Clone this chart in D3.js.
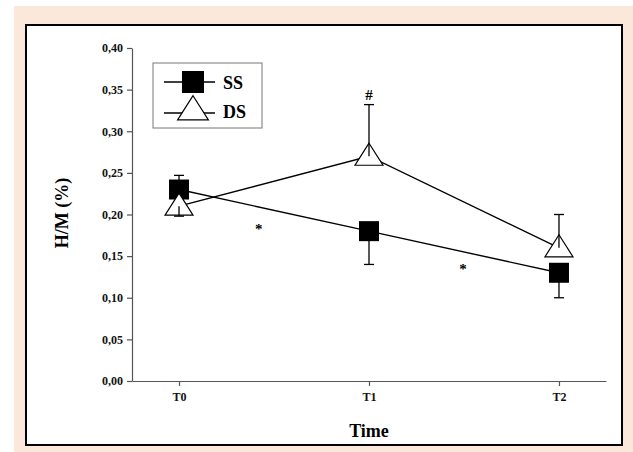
<!DOCTYPE html>
<html>
<head>
<meta charset="utf-8">
<script src="https://cdn.jsdelivr.net/npm/d3@7"></script>
<style>
  html, body { margin: 0; padding: 0; background: #ffffff; }
  svg { display: block; }
</style>
</head>
<body>
<script>
// ---- Data ----
const categories = ["T0", "T1", "T2"];
const ssValues = [0.23, 0.18, 0.13];
const ssErrors = [0.017, 0.04, 0.03];
const ssErrorDir = [1, -1, -1];
const dsValues = [0.21, 0.27, 0.16];
const dsErrors = [0.012, 0.062, 0.04];
const dsErrorDir = [-1, 1, 1];
const yTicks = [0, 0.05, 0.10, 0.15, 0.20, 0.25, 0.30, 0.35, 0.40];
const seriesNames = ["SS", "DS"];
const annotations = [
  { text: "*", cat: 0.42, value: 0.182 },
  { text: "*", cat: 1.495, value: 0.135 },
  { text: "#", cat: 1, value: 0.344 }
];

const W = 633, H = 452;
const svg = d3.select("body").append("svg").attr("width", W).attr("height", H);

// background
svg.append("rect").attr("x", 14).attr("y", 6).attr("width", W - 14).attr("height", H - 6).attr("fill", "#fbe8da");
svg.append("rect").attr("x", 26).attr("y", 25).attr("width", 596).attr("height", 420)
  .attr("fill", "#ffffff").attr("stroke", "#000").attr("stroke-width", 2);

const x = d3.scalePoint().domain(categories).range([132, 606]).padding(0.2475);
const y = d3.scaleLinear().domain([0, 0.4]).range([381, 48]);
const xc = i => x(categories[0]) + i * x.step();

const fmt = v => d3.format(".2f")(v).replace(".", ",");
const serif = "'Liberation Serif', 'Times New Roman', serif";

// axes
const gy = svg.append("g").attr("transform", "translate(132,0)")
  .call(d3.axisLeft(y).tickValues(yTicks).tickFormat(fmt).tickSize(5).tickSizeOuter(0).tickPadding(4));
const gx = svg.append("g").attr("transform", "translate(0,381)")
  .call(d3.axisBottom(x).tickSize(5).tickSizeOuter(0).tickPadding(6));
[gy, gx].forEach(g => {
  g.select(".domain").attr("stroke", "#555").attr("stroke-width", 1.2);
  g.selectAll(".tick line").attr("stroke", "#555").attr("stroke-width", 1.2);
  g.selectAll(".tick text").attr("fill", "#111").style("font-family", serif)
    .style("font-weight", "bold").style("font-size", "12px");
});

// axis titles
svg.append("text").attr("x", 369).attr("y", 437).attr("text-anchor", "middle")
  .style("font-family", serif).style("font-weight", "bold").style("font-size", "18px").text("Time");
svg.append("text").attr("transform", "translate(68,213) rotate(-90)").attr("text-anchor", "middle")
  .style("font-family", serif).style("font-weight", "bold").style("font-size", "18px").text("H/M (%)");

const line = d3.line().x((d, i) => xc(i)).y(d => y(d));
const plot = svg.append("g");

// lines
plot.append("path").datum(ssValues).attr("d", line).attr("fill", "none").attr("stroke", "#000").attr("stroke-width", 1.4);
plot.append("path").datum(dsValues).attr("d", line).attr("fill", "none").attr("stroke", "#000").attr("stroke-width", 1.4);

function errorBars(values, errs, dirs) {
  values.forEach((v, i) => {
    const cx = xc(i), y0 = y(v), y1 = y(v + dirs[i] * errs[i]);
    plot.append("line").attr("x1", cx).attr("x2", cx).attr("y1", y0).attr("y2", y1)
      .attr("stroke", "#000").attr("stroke-width", 1.3);
    plot.append("line").attr("x1", cx - 5).attr("x2", cx + 5).attr("y1", y1).attr("y2", y1)
      .attr("stroke", "#000").attr("stroke-width", 1.3);
  });
}

const triPath = (cx, cy, s) => {
  const hw = 14 * s, up = 13 * s, dn = 9 * s;
  return `M${cx},${cy - up}L${cx + hw},${cy + dn}L${cx - hw},${cy + dn}Z`;
};

// SS squares
errorBars(ssValues, ssErrors, ssErrorDir);
plot.selectAll(".sq").data(ssValues).enter().append("rect")
  .attr("x", (d, i) => xc(i) - 10).attr("y", d => y(d) - 10)
  .attr("width", 20).attr("height", 20).attr("fill", "#000");

// DS triangles
plot.selectAll(".tri").data(dsValues).enter().append("path")
  .attr("d", (d, i) => triPath(xc(i), y(d), 1))
  .attr("fill", "#fff").attr("stroke", "#000").attr("stroke-width", 1.2);
errorBars(dsValues, dsErrors, dsErrorDir);

// annotations
annotations.forEach(a => {
  svg.append("text").attr("x", xc(a.cat)).attr("y", y(a.value) + 5).attr("text-anchor", "middle")
    .attr("fill", "#000")
    .style("font-family", serif).style("font-weight", "bold").style("font-size", "15px").text(a.text);
});

// legend
const lg = svg.append("g");
lg.append("rect").attr("x", 153).attr("y", 63).attr("width", 109).attr("height", 65)
  .attr("fill", "#fff").attr("stroke", "#777").attr("stroke-width", 1);
lg.append("line").attr("x1", 164).attr("x2", 215).attr("y1", 82).attr("y2", 82).attr("stroke", "#000").attr("stroke-width", 1.4);
lg.append("rect").attr("x", 182).attr("y", 71).attr("width", 22).attr("height", 22).attr("fill", "#000");
lg.append("line").attr("x1", 164).attr("x2", 215).attr("y1", 113).attr("y2", 113).attr("stroke", "#000").attr("stroke-width", 1.4);
lg.append("path").attr("d", triPath(193, 110, 1.1)).attr("fill", "#fff").attr("stroke", "#000").attr("stroke-width", 1.2);
lg.selectAll(".lt").data(seriesNames).enter().append("text")
  .attr("x", 223).attr("y", (d, i) => 89 + i * 29)
  .style("font-family", serif).style("font-weight", "bold").style("font-size", "18px").text(d => d);
</script>
</body>
</html>
